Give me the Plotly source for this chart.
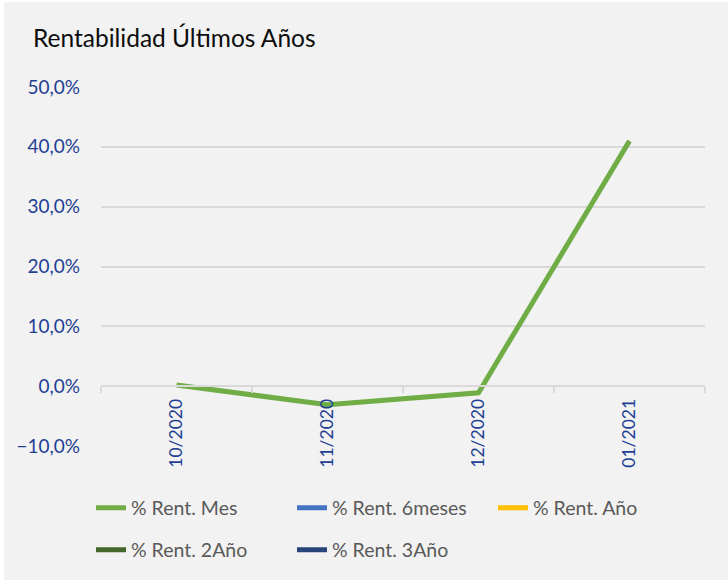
import plotly.graph_objects as go

# data
months = ['10/2020', '11/2020', '12/2020', '01/2021']
rent_mes = [0.2, -3.1, -1.1, 41.0]
rent_6meses = [None, None, None, None]
rent_anio = [None, None, None, None]
rent_2anio = [None, None, None, None]
rent_3anio = [None, None, None, None]

y_min, y_max = -10, 50

fig = go.Figure()

# first legend row
fig.add_trace(go.Scatter(x=months, y=rent_mes, name='% Rent. Mes', mode='lines',
                         line=dict(color='#70ad47', width=5), legend='legend'))
fig.add_trace(go.Scatter(x=months, y=rent_6meses, name='% Rent. 6meses', mode='lines',
                         line=dict(color='#4472c4', width=5), legend='legend'))
fig.add_trace(go.Scatter(x=months, y=rent_anio, name='% Rent. Año', mode='lines',
                         line=dict(color='#ffc000', width=5), legend='legend'))
# second legend row
fig.add_trace(go.Scatter(x=months, y=rent_2anio, name='% Rent. 2Año', mode='lines',
                         line=dict(color='#43682b', width=5), legend='legend2'))
fig.add_trace(go.Scatter(x=months, y=rent_3anio, name='% Rent. 3Año', mode='lines',
                         line=dict(color='#264478', width=5), legend='legend2'))

# x axis sits on the 0% line
zero_pos = (0 - y_min) / (y_max - y_min)

W, H = 724, 578
L, R, T, B = 97, 23, 85, 133
plot_w, plot_h = W - L - R, H - T - B

legend_style = dict(
    orientation='h',
    font=dict(family='Lato, sans-serif', size=19.5, color='#595959'),
    entrywidth=156, entrywidthmode='pixels',
    bgcolor='rgba(0,0,0,0)',
    xanchor='left', yanchor='middle',
    itemclick=False,
)

fig.update_layout(
    width=W, height=H,
    margin=dict(l=L, r=R, t=T, b=B),
    paper_bgcolor='#f2f2f2',
    plot_bgcolor='#f2f2f2',
    separators=', ',
    title=dict(
        text='Rentabilidad Últimos Años',
        font=dict(family='Lato, sans-serif', size=24.5, color='#0d0d0d'),
        x=29 / W, xanchor='left',
        y=1 - 36 / H, yanchor='middle',
    ),
    xaxis=dict(
        type='category',
        range=[-0.5, len(months) - 0.5],
        anchor='free', position=zero_pos,
        showgrid=False,
        showline=True, linecolor='#d9d9d9', linewidth=1.5,
        ticks='outside', ticklen=6, tickcolor='#d9d9d9', tickwidth=1.5,
        tickson='boundaries',
        tickangle=-90,
        ticklabelstandoff=5,
        tickfont=dict(family='Lato, sans-serif', size=17.5, color='#1f3f93'),
    ),
    yaxis=dict(
        range=[y_min, y_max],
        dtick=10,
        tickformat='.1f', ticksuffix='%',
        showgrid=True, gridcolor='#d9d9d9', gridwidth=1.5,
        zeroline=False,
        showline=False,
        ticks='',
        ticklabelstandoff=20,
        tickfont=dict(family='Lato, sans-serif', size=19, color='#1f3f93'),
    ),
    legend=dict(legend_style, x=-10 / plot_w, y=-(506 - (H - B)) / plot_h),
    legend2=dict(legend_style, x=-10 / plot_w, y=-(548 - (H - B)) / plot_h),
    showlegend=True,
)

# thin white edge on the left and top, as in the reference
fig.write_html('out.html', post_script="document.body.style.margin='2px 0 0 4px';")
